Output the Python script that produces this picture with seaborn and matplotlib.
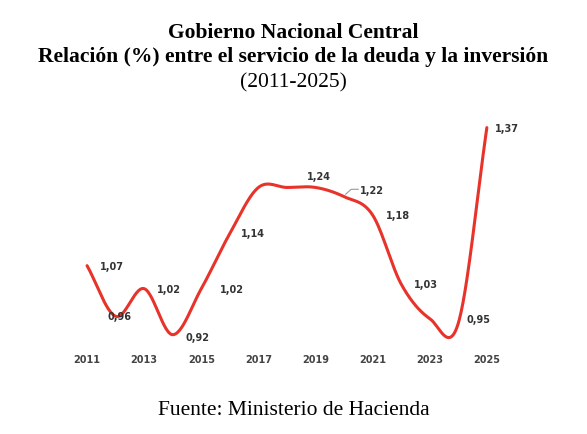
import numpy as np
import matplotlib
matplotlib.use("Agg")
import matplotlib.pyplot as plt
import seaborn as sns
import pandas as pd

years = [2011, 2012, 2013, 2014, 2015, 2016, 2017, 2018, 2019, 2020, 2021, 2022, 2023, 2024, 2025]
values = [1.07, 0.96, 1.02, 0.92, 1.02, 1.14, 1.24, 1.24, 1.24, 1.22, 1.18, 1.03, 0.955, 0.945, 1.37]
labels = ["1,07", "0,96", "1,02", "0,92", "1,02", "1,14", None, "1,24", None, "1,22", "1,18", "1,03", None, "0,95", "1,37"]
tick_years = [2011, 2013, 2015, 2017, 2019, 2021, 2023, 2025]

sns.set_theme(style="white")
plt.rcParams['font.family'] = ['DejaVu Sans']

# smooth curve (Catmull-Rom) through data points for display
x = np.array(years, float); y = np.array(values, float)
px = np.concatenate([[2*x[0]-x[1]], x, [2*x[-1]-x[-2]]])
py = np.concatenate([[2*y[0]-y[1]], y, [2*y[-1]-y[-2]]])
sx, sy = [], []
for i in range(1, len(px)-2):
    t = np.linspace(0, 1, 30, endpoint=False)
    for arr, out in ((px, sx), (py, sy)):
        p0, p1, p2, p3 = arr[i-1], arr[i], arr[i+1], arr[i+2]
        out.extend(0.5*((2*p1) + (-p0+p2)*t + (2*p0-5*p1+4*p2-p3)*t**2 + (-p0+3*p1-3*p2+p3)*t**3))
sx.append(x[-1]); sy.append(y[-1])
df = pd.DataFrame({"x": sx, "y": sy})

fig = plt.figure(figsize=(5.87, 4.35), dpi=100)
ax = fig.add_axes([0.124, 0.186, 0.72, 0.55])
sns.lineplot(data=df, x="x", y="y", ax=ax, color="#e8332a", linewidth=2.2, sort=False)
ax.set_xlim(2010.5, 2025.3)
ax.set_ylim(0.88, 1.40)
for s in ax.spines.values():
    s.set_visible(False)
ax.set_yticks([])
ax.set_xticks(tick_years)
ax.set_xticklabels([str(t) for t in tick_years], fontsize=7, fontweight="bold", color="#444444")
ax.tick_params(axis="x", length=0, pad=1)
ax.set_xlabel(""); ax.set_ylabel("")

offsets = {2011: (0.45, 0.0), 2012: (-0.3, 0.0), 2013: (0.45, 0.0), 2014: (0.45, -0.005),
           2015: (0.65, 0.0), 2016: (0.4, 0.0), 2018: (0.7, 0.025), 2020: (0.55, 0.015),
           2021: (0.45, 0.0), 2022: (0.45, 0.0), 2024: (0.3, 0.01), 2025: (0.3, 0.0)}
for yr, v, lab in zip(years, values, labels):
    if lab is None:
        continue
    dx, dy = offsets[yr]
    ax.text(yr + dx, v + dy, lab, fontsize=7, fontweight="bold", color="#333333", va="center", ha="left")
ax.plot([2020.05, 2020.25, 2020.5], [1.225, 1.236, 1.236], color="#999999", lw=0.8)

ser = "Liberation Serif"
fig.text(0.5, 0.925, "Gobierno Nacional Central", ha="center", va="center", fontsize=15.5, fontweight="bold", family=ser, color="black")
fig.text(0.5, 0.868, "Relación (%) entre el servicio de la deuda y la inversión", ha="center", va="center", fontsize=15.5, fontweight="bold", family=ser, color="black")
fig.text(0.5, 0.81, "(2011-2025)", ha="center", va="center", fontsize=15.5, family=ser, color="black")
fig.text(0.5, 0.057, "Fuente: Ministerio de Hacienda", ha="center", va="center", fontsize=15.5, family=ser, color="black")
fig.savefig("out.png", dpi=100, facecolor="white")
